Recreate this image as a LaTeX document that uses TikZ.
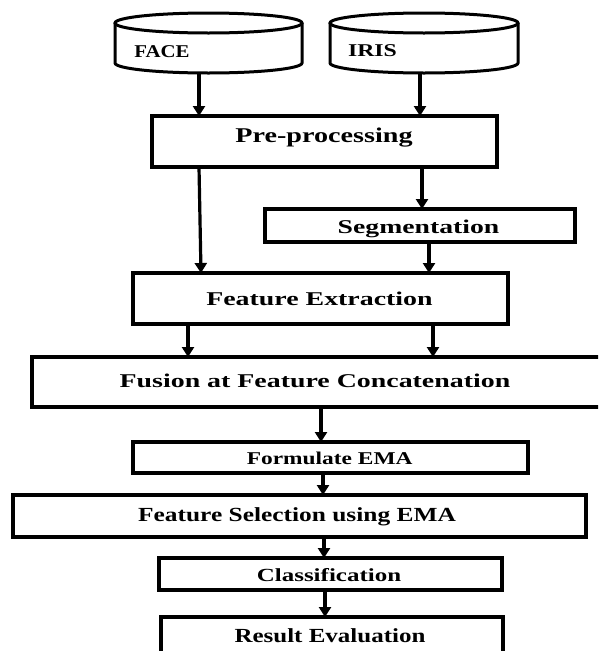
\documentclass[tikz,border=0pt]{standalone}
\usepackage{fontspec}
\setmainfont{Liberation Serif}
\usetikzlibrary{arrows.meta}
\newcommand{\hstr}[2]{\scalebox{#1}[1]{#2}}
\tikzset{
  boxnode/.style={draw, line width=3.4pt, inner sep=0pt, outer sep=0pt, rectangle},
  cylline/.style={line width=3pt},
  lbl/.style={inner sep=0pt, outer sep=0pt, anchor=base, font=\bfseries},
  arr/.style={line width=3.2pt, -{Triangle[length=10pt,width=12pt]}},
}
\begin{document}
\begin{tikzpicture}[x=1pt,y=-1pt]
\clip (0,0) rectangle (598,651);
\fill[white] (0,0) rectangle (598,651);

% cylinders
\draw[cylline] (115,23) -- (115,63) arc[start angle=180, end angle=0, x radius=93.5, y radius=10] -- (302,23);
\draw[cylline] (208.5,23) ellipse [x radius=93.5, y radius=10];
\draw[cylline] (330,23) -- (330,63) arc[start angle=180, end angle=0, x radius=94, y radius=10] -- (518,23);
\draw[cylline] (424,23) ellipse [x radius=94, y radius=10];
\coordinate (faceB) at (199,73);
\coordinate (irisB) at (420,73);
\node[lbl, font=\bfseries\fontsize{18}{20}\selectfont] (faceT) at (162,57) {\hstr{1.16}{FACE}};
\node[lbl, font=\bfseries\fontsize{18}{20}\selectfont] (irisT) at (372.5,56) {\hstr{1.32}{IRIS}};

% boxes
\node[boxnode, minimum width=345pt, minimum height=51pt] (pre) at (324.5,141.5) {};
\node[boxnode, minimum width=310pt, minimum height=33pt] (seg) at (420,225.5) {};
\node[boxnode, minimum width=375pt, minimum height=51pt] (fe) at (320.5,298.5) {};
\node[boxnode, minimum width=610pt, minimum height=50pt] (fus) at (337,382) {};
\node[boxnode, minimum width=395pt, minimum height=31pt] (form) at (330.5,457.5) {};
\node[boxnode, minimum width=573pt, minimum height=42pt] (fs) at (299.5,516) {};
\node[boxnode, minimum width=343pt, minimum height=32pt] (cls) at (330.5,574) {};
\node[boxnode, minimum width=342pt, minimum height=80pt] (res) at (332,657) {};

% texts
\node[lbl, font=\bfseries\fontsize{21}{23}\selectfont] (preT) at (324,142) {\hstr{1.34}{Pre-processing}};
\node[lbl, font=\bfseries\fontsize{19.5}{22}\selectfont] (segT) at (418.5,233) {\hstr{1.42}{Segmentation}};
\node[lbl, font=\bfseries\fontsize{19.5}{22}\selectfont] (feT) at (319.5,305) {\hstr{1.43}{Feature Extraction}};
\node[lbl, font=\bfseries\fontsize{19.5}{22}\selectfont] (fusT) at (315,387) {\hstr{1.43}{Fusion at Feature Concatenation}};
\node[lbl, font=\bfseries\fontsize{18}{20}\selectfont] (formT) at (329.7,464) {\hstr{1.30}{Formulate EMA}};
\node[lbl, font=\bfseries\fontsize{20}{22}\selectfont] (fsT) at (297,521) {\hstr{1.27}{Feature Selection using EMA}};
\node[lbl, font=\bfseries\fontsize{18.5}{21}\selectfont] (clsT) at (329,581) {\hstr{1.35}{Classification}};
\node[lbl, font=\bfseries\fontsize{20}{22}\selectfont] (resT) at (330,642) {\hstr{1.25}{Result Evaluation}};

% arrows
\draw[arr] (faceB) -- (faceB |- pre.north);
\draw[arr] (irisB) -- (irisB |- pre.north);
\draw[arr] ([xshift=47pt]pre.south west) -- ([xshift=68pt]fe.north west);
\draw[arr] ([xshift=270pt]pre.south west) -- ([xshift=157pt]seg.north west);
\draw[arr] ([xshift=164pt]seg.south west) -- ([xshift=296pt]fe.north west);
\draw[arr] ([xshift=55pt]fe.south west) -- ([xshift=156pt]fus.north west);
\draw[arr] ([xshift=300pt]fe.south west) -- ([xshift=401pt]fus.north west);
\draw[arr] ([xshift=289pt]fus.south west) -- ([xshift=188pt]form.north west);
\draw[arr] ([xshift=190pt]form.south west) -- ([xshift=310pt]fs.north west);
\draw[arr] ([xshift=311pt]fs.south west) -- ([xshift=165pt]cls.north west);
\draw[arr] ([xshift=166pt]cls.south west) -- ([xshift=164pt]res.north west);
\end{tikzpicture}
\end{document}
